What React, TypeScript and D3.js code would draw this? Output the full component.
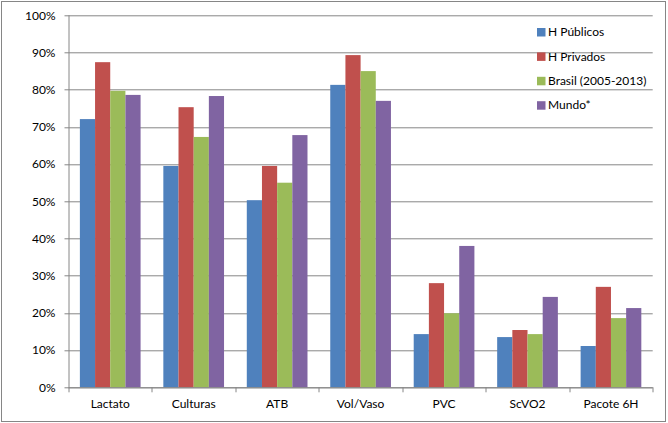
import React, { useRef, useEffect } from 'react';
import * as d3 from 'd3';

// Categories and series
const categories = ['Lactato', 'Culturas', 'ATB', 'Vol/Vaso', 'PVC', 'ScVO2', 'Pacote 6H'];
const seriesNames = ['H Públicos', 'H Privados', 'Brasil (2005-2013)', 'Mundo*'];
const hPublicos = [0.721, 0.595, 0.503, 0.813, 0.143, 0.135, 0.111];
const hPrivados = [0.874, 0.753, 0.595, 0.893, 0.280, 0.154, 0.270];
const brasil = [0.797, 0.673, 0.550, 0.850, 0.199, 0.143, 0.186];
const mundo = [0.786, 0.783, 0.678, 0.770, 0.380, 0.243, 0.213];
const yTicks = [0, 0.1, 0.2, 0.3, 0.4, 0.5, 0.6, 0.7, 0.8, 0.9, 1];
const colors = ['#4F81BD', '#C0504D', '#9BBB59', '#8064A2'];

const App = () => {
  const svgRef = useRef<SVGSVGElement>(null);

  useEffect(() => {
    const W = 668;
    const H = 423;
    const margin = { top: 15.3, right: 15.3, bottom: 35.7, left: 68.5 };
    const width = W - margin.left - margin.right;
    const height = H - margin.top - margin.bottom;
    const font = 'Lato, "Open Sans", sans-serif';

    d3.select(svgRef.current).selectAll('*').remove();

    const root = d3.select(svgRef.current).attr('width', W).attr('height', H);

    // Outer chart border
    root
      .append('rect')
      .attr('x', 1.5)
      .attr('y', 1.5)
      .attr('width', W - 4)
      .attr('height', H - 3)
      .attr('fill', 'white')
      .attr('stroke', '#868686')
      .attr('stroke-width', 1);

    const svg = root.append('g').attr('transform', `translate(${margin.left},${margin.top})`);

    const x = d3.scaleBand().domain(categories).range([0, width]).paddingInner(0).paddingOuter(0);
    const y = d3.scaleLinear().domain([0, 1]).range([height, 0]);

    // Gridlines
    svg
      .append('g')
      .selectAll('line')
      .data(yTicks)
      .join('line')
      .attr('x1', -4)
      .attr('x2', width)
      .attr('y1', (d) => Math.round(y(d)) + 0.5)
      .attr('y2', (d) => Math.round(y(d)) + 0.5)
      .attr('stroke', '#868686')
      .attr('stroke-width', 1);

    // Bars: gap width 150% of bar width
    const barW = x.bandwidth() / (seriesNames.length + 1.5);
    const allSeries = [hPublicos, hPrivados, brasil, mundo];
    allSeries.forEach((vals, si) => {
      svg
        .append('g')
        .selectAll('rect')
        .data(vals)
        .join('rect')
        .attr('x', (d, i) => (x(categories[i]) as number) + barW * 0.75 + si * barW)
        .attr('y', (d) => y(d))
        .attr('width', barW)
        .attr('height', (d) => height - y(d))
        .attr('fill', colors[si]);
    });

    // Y axis
    const yAxis = svg
      .append('g')
      .call(d3.axisLeft(y).tickValues(yTicks).tickFormat(d3.format('.0%')).tickSize(0).tickPadding(13));
    yAxis.select('.domain').remove();
    yAxis.selectAll('text').attr('font-family', font).attr('font-size', 12).attr('fill', '#000');
    svg
      .append('line')
      .attr('x1', 0.5)
      .attr('x2', 0.5)
      .attr('y1', 0)
      .attr('y2', height)
      .attr('stroke', '#868686');

    // X axis
    const xAxis = svg
      .append('g')
      .attr('transform', `translate(0,${height})`)
      .call(d3.axisBottom(x).tickSize(0).tickPadding(12));
    xAxis.select('.domain').attr('stroke', '#868686').attr('d', `M0,0.5H${width}`);
    xAxis.selectAll('text').attr('font-family', font).attr('font-size', 12).attr('fill', '#000');
    svg
      .append('g')
      .selectAll('line')
      .data(d3.range(categories.length + 1))
      .join('line')
      .attr('x1', (d) => Math.round(d * x.step()) + 0.5)
      .attr('x2', (d) => Math.round(d * x.step()) + 0.5)
      .attr('y1', height)
      .attr('y2', height + 5)
      .attr('stroke', '#868686');

    // Legend
    const legend = root.append('g').attr('transform', 'translate(537,32)');
    seriesNames.forEach((name, i) => {
      const row = legend.append('g').attr('transform', `translate(0,${i * 24.4})`);
      row.append('rect').attr('x', 0).attr('y', -4).attr('width', 8.5).attr('height', 8.5).attr('fill', colors[i]);
      row
        .append('text')
        .attr('x', 11)
        .attr('y', 0)
        .attr('dy', '0.35em')
        .attr('font-family', font)
        .attr('font-size', 12)
        .attr('fill', '#000')
        .text(name);
    });
  }, []);

  return (
    <div style={{ position: 'absolute', left: 0, top: 0 }}>
      <svg ref={svgRef} style={{ display: 'block' }}></svg>
    </div>
  );
};

export default App;
